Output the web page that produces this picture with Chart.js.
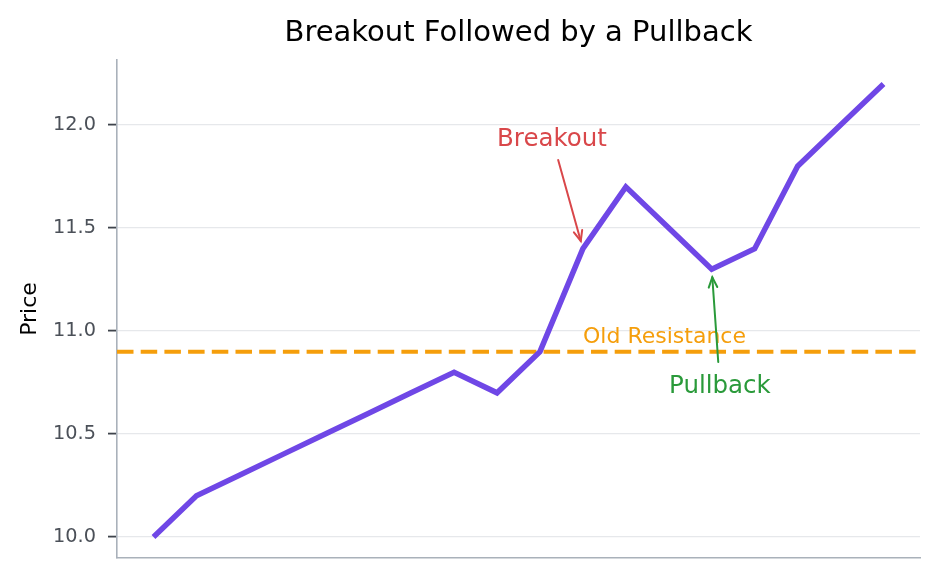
<!DOCTYPE html>
<html><head><meta charset="utf-8">
<script src="https://cdn.jsdelivr.net/npm/chart.js@4/dist/chart.umd.min.js"></script>
<style>html,body{margin:0;padding:0;background:#fff}#wrap{width:940px;height:579px}</style>
</head><body><div id="wrap"><canvas id="c" width="940" height="579"></canvas></div>
<script>
const xIndex = [0,1,2,3,4,5,6,7,8,9,10,11,12,13,14,15,16,17];
const prices = [10.0,10.2,10.3,10.4,10.5,10.6,10.7,10.8,10.7,10.9,11.4,11.7,11.5,11.3,11.4,11.8,12.0,12.2];
const yTicks = [10.0,10.5,11.0,11.5,12.0];
const resistanceLevel = 10.9;
const titleText = 'Breakout Followed by a Pullback';
const yLabel = 'Price';
const breakoutNote = {text:'Breakout', at:[10,11.4], textAt:[9.28,11.937], color:'#d9474a'};
const pullbackNote = {text:'Pullback', at:[13,11.3], textAt:[13.19,10.738], color:'#2a9a3a'};
const resistanceNote = {text:'Old Resistance', at:[11.9,10.98], color:'#f59e0b'};

const FONT = "'DejaVu Sans', sans-serif";

function arrow(ctx, x1, y1, x2, y2, color){
  ctx.save();
  ctx.strokeStyle = color; ctx.lineWidth = 2; ctx.lineCap='round';
  ctx.beginPath(); ctx.moveTo(x1,y1); ctx.lineTo(x2,y2); ctx.stroke();
  const a = Math.atan2(y2-y1, x2-x1), L = 11, s = 0.4;
  ctx.beginPath();
  ctx.moveTo(x2 - L*Math.cos(a - s), y2 - L*Math.sin(a - s));
  ctx.lineTo(x2, y2);
  ctx.lineTo(x2 - L*Math.cos(a + s), y2 - L*Math.sin(a + s));
  ctx.stroke();
  ctx.restore();
}

const decor = {
  id:'decor',
  beforeDatasetsDraw(chart){
    const {ctx, chartArea:ca, scales:{x,y}} = chart;
    const py = y.getPixelForValue(resistanceLevel);
    ctx.save();
    ctx.strokeStyle = '#f59e0b'; ctx.lineWidth = 4; ctx.lineCap='butt'; ctx.setLineDash([16.5,7.2]);
    ctx.beginPath(); ctx.moveTo(ca.left, py); ctx.lineTo(ca.right, py); ctx.stroke();
    ctx.restore();
  },
  afterDraw(chart){
    const {ctx, chartArea:ca, scales:{x,y}} = chart;
    ctx.save();
    ctx.fillStyle = '#000'; ctx.font = `29px ${FONT}`; ctx.textAlign='center'; ctx.textBaseline='middle';
    ctx.fillText(titleText, (ca.left+ca.right)/2, 33);
    ctx.save(); ctx.translate(30, (ca.top+ca.bottom)/2); ctx.rotate(-Math.PI/2);
    ctx.font = `22px ${FONT}`; ctx.fillText(yLabel, 0, 0); ctx.restore();
    ctx.fillStyle = resistanceNote.color; ctx.font = `22px ${FONT}`;
    ctx.fillText(resistanceNote.text, x.getPixelForValue(resistanceNote.at[0]), y.getPixelForValue(resistanceNote.at[1]) + 2);
    for (const n of [breakoutNote, pullbackNote]){
      const tx = x.getPixelForValue(n.textAt[0]), ty = y.getPixelForValue(n.textAt[1]);
      const px = x.getPixelForValue(n.at[0]), pyy = y.getPixelForValue(n.at[1]);
      ctx.fillStyle = n.color; ctx.font = `24.5px ${FONT}`;
      ctx.fillText(n.text, tx, ty + 2);
      const below = pyy > ty;
      const sx = tx + (px - tx)*0.2, sy = below ? ty + 22 : ty - 23;
      const dx = px - sx, dy = pyy - sy, d = Math.hypot(dx,dy), sh = 8;
      arrow(ctx, sx, sy, px - dx/d*sh, pyy - dy/d*sh, n.color);
    }
    ctx.restore();
  }
};

new Chart(document.getElementById('c'), {
  type:'line',
  data:{ datasets:[{
    data: xIndex.map((v,i)=>({x:v, y:prices[i]})),
    borderColor:'#6f47e6', borderWidth:5.5, pointRadius:0, tension:0, fill:false,
    borderJoinStyle:'miter', borderCapStyle:'butt'
  }]},
  options:{
    responsive:false, animation:false, devicePixelRatio:1,
    layout:{padding:{top:60, right:20, bottom:0, left:0}},
    plugins:{legend:{display:false}, tooltip:{enabled:false}, title:{display:false}},
    scales:{
      x:{type:'linear', min:-0.85, max:17.85,
        grid:{display:false, drawTicks:false},
        ticks:{display:false},
        border:{display:true, color:'#a9b1ba', width:1.6},
        afterFit(s){ s.height = 21; s.paddingLeft = 0; s.paddingRight = 0; }
      },
      y:{type:'linear', min:9.898, max:12.316,
        afterBuildTicks(s){ s.ticks = yTicks.map(v=>({value:v})); },
        ticks:{color:'#4b5058', font:{family:FONT, size:19.3}, padding:12, callback:v=>v.toFixed(1)},
        grid:{color:'#e6e8eb', lineWidth:1.2, tickLength:9, tickColor:'#3f444c', tickWidth:1.8},
        border:{display:true, color:'#a9b1ba', width:1.6},
        afterFit(s){ s.width = 117; s.paddingTop = 0; s.paddingBottom = 0; }
      }
    }
  },
  plugins:[decor]
});
</script>
</body></html>
